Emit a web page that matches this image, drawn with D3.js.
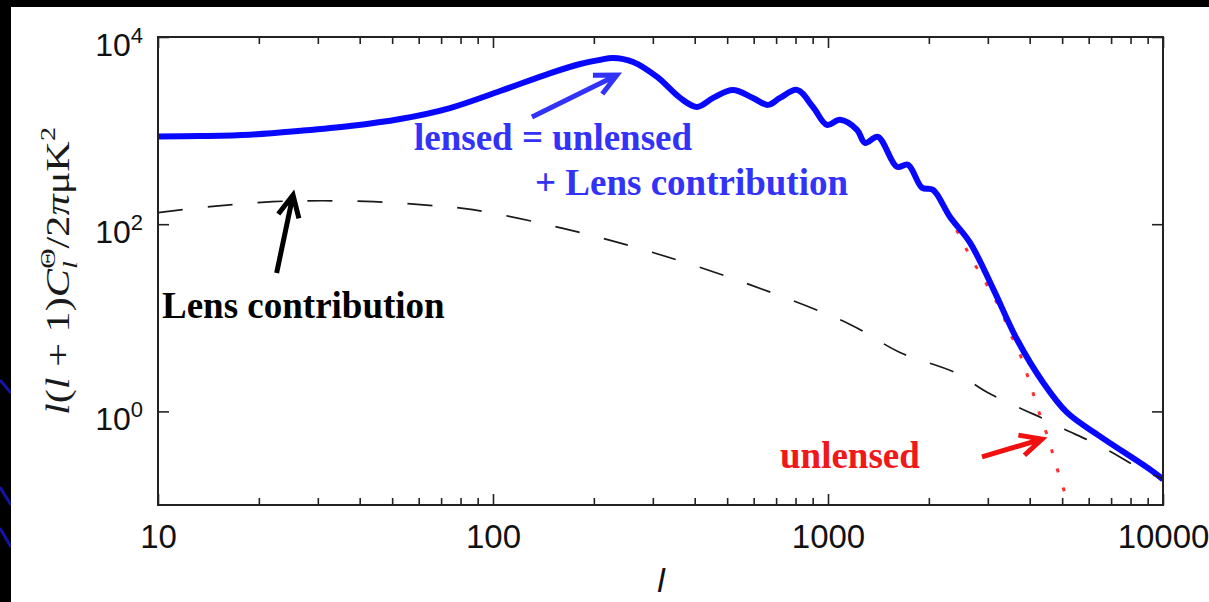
<!DOCTYPE html>
<html>
<head>
<meta charset="utf-8">
<script src="https://cdn.jsdelivr.net/npm/d3@7"></script>
<style>
  html, body { margin: 0; padding: 0; background: #000; overflow: hidden; }
  svg { display: block; }
</style>
</head>
<body>
<svg id="chart" width="1209" height="602"></svg>
<script>
// Temperature power spectrum l(l+1)C_l/2π [μK²] versus multipole l

// lensed spectrum (solid blue)
const lensedL = [10, 13.3, 18.8, 26.6, 37.4, 52.8, 74.4, 105, 148.5, 182, 208, 228, 262, 309, 362, 406, 454, 520, 597, 662, 719, 808, 902, 993, 1086, 1221, 1289, 1409, 1606, 1733, 1909, 2057, 2311, 2654, 3110, 3667, 4385, 5166, 6486, 9140, 10000];
const lensedC = [865, 875, 905, 995, 1119, 1330, 1743, 2648, 4120, 5150, 5680, 5970, 5410, 3740, 2235, 1790, 2235, 2720, 2235, 1883, 2235, 2720, 1790, 1151, 1303, 1019, 740, 857, 410, 431, 245, 233, 120, 63.5, 20.5, 5.86, 2.04, 0.975, 0.541, 0.24, 0.188];

// unlensed spectrum (red dots) — damping tail falls off steeply
const unlensedL = [10, 13.3, 18.8, 26.6, 37.4, 52.8, 74.4, 105, 148.5, 182, 208, 228, 262, 309, 362, 406, 454, 520, 597, 662, 719, 808, 902, 993, 1086, 1221, 1289, 1409, 1606, 1733, 1909, 2057, 2311, 2710, 2904, 3090, 3306, 3445, 3664, 3846, 4009, 4177, 4355, 4570, 4732, 4931, 5131, 5400];
const unlensedC = [865, 875, 905, 995, 1119, 1330, 1743, 2648, 4120, 5150, 5680, 5970, 5410, 3740, 2235, 1790, 2235, 2720, 2235, 1883, 2235, 2720, 1790, 1151, 1303, 1019, 740, 857, 410, 431, 245, 233, 118, 39.8, 26.8, 17.7, 11.7, 7.5, 4.93, 3.10, 1.99, 1.25, 0.78, 0.49, 0.31, 0.193, 0.124, 0.07];

// lensing contribution (black dashes)
const lensL = [10, 14.3, 22, 31, 44, 62, 87, 158, 294, 584, 1164, 1640, 2394, 2985, 3819, 4449, 5097, 5929, 7096, 8131, 8954, 10000];
const lensC = [133, 154, 174, 178, 174, 161, 143, 92, 51, 22.6, 8.5, 4.26, 2.6, 1.6, 1.05, 0.82, 0.64, 0.50, 0.36, 0.27, 0.225, 0.19];

// axes
const xMajor = [10, 100, 1000, 10000];
const xMajorLabels = ["10", "100", "1000", "10000"];
const yMajor = [1, 100, 10000];
const yExponents = ["0", "2", "4"];

const svg = d3.select("#chart");
const W = 1209, H = 602;

// slide backdrop
svg.append("rect").attr("width", W).attr("height", H).attr("fill", "#000");
const deco = [[0, 380, 11, 393], [0, 487, 11, 505], [0, 528, 11, 547]];
svg.selectAll("line.deco").data(deco).join("line")
  .attr("class", "deco")
  .attr("x1", d => d[0]).attr("y1", d => d[1]).attr("x2", d => d[2]).attr("y2", d => d[3])
  .attr("stroke", "#1414a8").attr("stroke-width", 3);
svg.append("rect").attr("x", 11).attr("y", 7).attr("width", W - 11).attr("height", H - 7).attr("fill", "#fff");

const plot = { left: 158, right: 1163, top: 37, bottom: 505 };
const x = d3.scaleLog().domain([10, 10000]).range([plot.left, plot.right]);
const y = d3.scaleLog().domain([0.1, 10000]).range([plot.bottom, plot.top]);

svg.append("defs").append("clipPath").attr("id", "plotClip")
  .append("rect").attr("x", plot.left).attr("y", plot.top)
  .attr("width", plot.right - plot.left).attr("height", plot.bottom - plot.top);

const line = d3.line()
  .x(d => x(d[0])).y(d => y(d[1]))
  .curve(d3.curveCatmullRom.alpha(0.5));

const curves = svg.append("g").attr("clip-path", "url(#plotClip)");

curves.append("path")
  .datum(d3.zip(unlensedL, unlensedC))
  .attr("d", line)
  .attr("fill", "none")
  .attr("stroke", "#ff3030")
  .attr("stroke-width", 3)
  .attr("stroke-dasharray", "4,16");

curves.append("path")
  .datum(d3.zip(lensedL, lensedC))
  .attr("d", line)
  .attr("fill", "none")
  .attr("stroke", "#0808ff")
  .attr("stroke-width", 6)
  .attr("stroke-linejoin", "round");

curves.append("path")
  .datum(d3.zip(lensL, lensC))
  .attr("d", line)
  .attr("fill", "none")
  .attr("stroke", "#1a1a1a")
  .attr("stroke-width", 1.7)
  .attr("stroke-dasharray", "25,25");

// tick marks on all four sides
const minorX = [];
for (let dec = 10; dec < 10000; dec *= 10) for (let k = 2; k <= 9; k++) minorX.push(dec * k);

function styleAxis(g) {
  g.select(".domain").remove();
  g.selectAll(".tick line").attr("stroke", "#222").attr("stroke-width", 1.6);
}

svg.append("g").attr("transform", `translate(0,${plot.bottom})`)
  .call(d3.axisBottom(x).tickValues(minorX).tickSize(-7).tickFormat(""))
  .call(styleAxis).selectAll("text").remove();
svg.append("g").attr("transform", `translate(0,${plot.top})`)
  .call(d3.axisTop(x).tickValues(minorX).tickSize(-7).tickFormat(""))
  .call(styleAxis).selectAll("text").remove();
svg.append("g").attr("transform", `translate(0,${plot.top})`)
  .call(d3.axisTop(x).tickValues(xMajor).tickSize(-11).tickFormat(""))
  .call(styleAxis).selectAll("text").remove();

const bottomAxis = svg.append("g").attr("transform", `translate(0,${plot.bottom})`)
  .call(d3.axisBottom(x).tickValues(xMajor).tickSize(-11).tickPadding(20)
    .tickFormat((d, i) => xMajorLabels[i]))
  .call(styleAxis);
bottomAxis.selectAll("text")
  .attr("fill", "#111")
  .style("font-family", "'Liberation Sans', Arial, sans-serif")
  .style("font-size", "33px");

svg.append("g").attr("transform", `translate(${plot.left},0)`)
  .call(d3.axisLeft(y).tickValues(yMajor).tickSize(-11).tickFormat(""))
  .call(styleAxis).selectAll("text").remove();
svg.append("g").attr("transform", `translate(${plot.right},0)`)
  .call(d3.axisRight(y).tickValues(yMajor).tickSize(-11).tickFormat(""))
  .call(styleAxis).selectAll("text").remove();

// y tick labels as powers of ten
const yLabels = svg.append("g")
  .style("font-family", "'Liberation Sans', Arial, sans-serif")
  .attr("fill", "#111");
yMajor.forEach((v, i) => {
  const t = yLabels.append("text")
    .attr("x", 143).attr("y", y(v) + 19)
    .attr("text-anchor", "end");
  t.append("tspan").style("font-size", "32px").text("10");
  t.append("tspan").style("font-size", "22px").attr("dy", -13).text(yExponents[i]);
});

// plot frame
svg.append("rect")
  .attr("x", plot.left).attr("y", plot.top)
  .attr("width", plot.right - plot.left).attr("height", plot.bottom - plot.top)
  .attr("fill", "none").attr("stroke", "#222").attr("stroke-width", 2);

// axis titles
svg.append("text")
  .attr("x", 661).attr("y", 592)
  .attr("text-anchor", "middle")
  .style("font-family", "'Liberation Sans', Arial, sans-serif")
  .style("font-style", "italic")
  .style("font-size", "34px")
  .attr("fill", "#111")
  .text("l");

const ylab = svg.append("text")
  .attr("transform", "translate(69,271) rotate(-90)")
  .attr("text-anchor", "middle")
  .attr("textLength", 288)
  .attr("lengthAdjust", "spacingAndGlyphs")
  .style("font-family", "'Liberation Serif', 'DejaVu Serif', serif")
  .style("font-size", "33px")
  .attr("fill", "#1a1a1a");
ylab.append("tspan").style("font-style", "italic").text("l");
ylab.append("tspan").text("(");
ylab.append("tspan").style("font-style", "italic").text("l");
ylab.append("tspan").text(" + 1)");
ylab.append("tspan").style("font-style", "italic").text("C");
ylab.append("tspan").style("font-style", "italic").style("font-size", "22px").attr("dy", 8).text("l");
ylab.append("tspan").style("font-size", "22px").attr("dx", -6).attr("dy", -22).text("Θ");
ylab.append("tspan").attr("dy", 14).text("/2");
ylab.append("tspan").style("font-style", "italic").text("π");
ylab.append("tspan").text("μK");
ylab.append("tspan").style("font-size", "22px").attr("dy", -14).text("2");

// annotations
const serif = "'Liberation Serif', 'Times New Roman', serif";
function note(px, py, txt, color) {
  svg.append("text").attr("x", px).attr("y", py)
    .style("font-family", serif).style("font-weight", "bold").style("font-size", "37px")
    .attr("fill", color).text(txt);
}
note(414, 150, "lensed = unlensed", "#3232f8");
note(535, 195, "+ Lens contribution", "#3232f8");
note(162, 318, "Lens contribution", "#000");
note(780, 468, "unlensed", "#f01818");

// arrows given as (l, value) pairs for tail and tip
const arrows = [
  { tail: [130.7, 1397], tip: [234.4, 3926], color: "#3232f8" },
  { tail: [22.6, 30.1], tip: [25.3, 205], color: "#000" },
  { tail: [2882, 0.326], tip: [4355, 0.507], color: "#f01010" }
];
arrows.forEach(a => {
  const tx = x(a.tail[0]), ty = y(a.tail[1]);
  const hx = x(a.tip[0]), hy = y(a.tip[1]);
  const len = Math.hypot(tx - hx, ty - hy);
  const ux = (tx - hx) / len, uy = (ty - hy) / len;
  const ang = 26 * Math.PI / 180, wl = 24;
  const w1 = [hx + wl * (ux * Math.cos(ang) - uy * Math.sin(ang)), hy + wl * (ux * Math.sin(ang) + uy * Math.cos(ang))];
  const w2 = [hx + wl * (ux * Math.cos(-ang) - uy * Math.sin(-ang)), hy + wl * (ux * Math.sin(-ang) + uy * Math.cos(-ang))];
  const p = d3.path();
  p.moveTo(tx, ty); p.lineTo(hx + ux * 2, hy + uy * 2);
  p.moveTo(w1[0], w1[1]); p.lineTo(hx, hy); p.lineTo(w2[0], w2[1]);
  svg.append("path").attr("d", p.toString())
    .attr("fill", "none").attr("stroke", a.color)
    .attr("stroke-width", 5).attr("stroke-linejoin", "miter");
});
</script>
</body>
</html>
